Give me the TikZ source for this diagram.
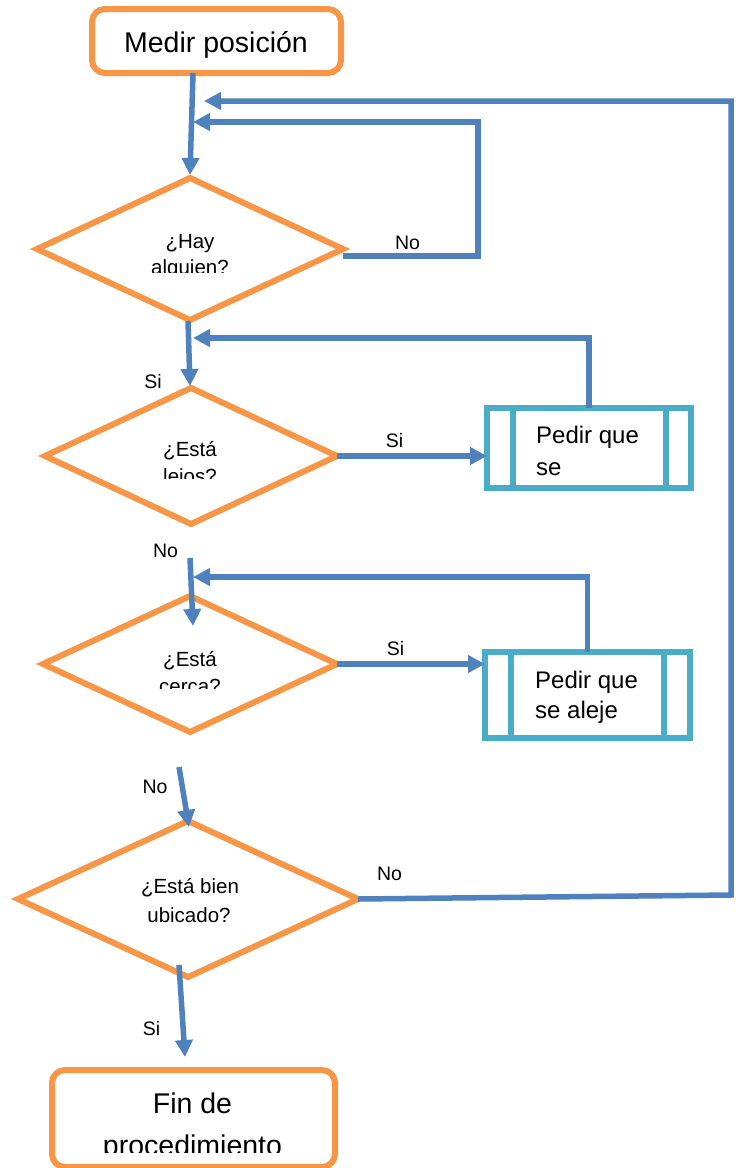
\documentclass[tikz,border=0pt]{standalone}
\usepackage{fontspec}
\setmainfont{Liberation Sans}
\usetikzlibrary{shapes.geometric,arrows.meta}
\definecolor{flowOrange}{HTML}{F79646}
\definecolor{flowBlue}{HTML}{4F81BD}
\definecolor{flowCyan}{HTML}{4BACC6}

\tikzset{
  terminal/.style={rectangle, draw=flowOrange, line width=6pt, rounded corners=13pt,
                   inner sep=0pt, outer sep=0pt},
  decision/.style={diamond, draw=flowOrange, line width=6pt, inner sep=0pt, outer sep=0pt},
  process/.style={rectangle, draw=flowCyan, line width=6.5pt, inner sep=0pt, outer sep=0pt},
  sidebar/.style={draw=flowCyan, line width=6pt},
  flow/.style={draw=flowBlue, line width=5.5pt},
  arrowflow/.style={flow, -{Triangle[length=17pt,width=17pt]}},
  lbl/.style={font=\fontsize{19.5}{22}\selectfont, inner sep=0pt, anchor=base},
  dtext/.style={font=\fontsize{20.5}{24}\selectfont, inner sep=0pt, anchor=base},
  ptext/.style={font=\fontsize{24}{28}\selectfont, inner sep=0pt, anchor=base west},
  ttext/.style={font=\fontsize{28.5}{33}\selectfont, inner sep=0pt, anchor=base},
}

\begin{document}
\begin{tikzpicture}[x=1pt,y=-1pt]
\useasboundingbox (0,0) rectangle (739,1168);
\clip (0,0) rectangle (739,1168);
\fill[white] (0,0) rectangle (739,1168);

% ---- shapes ----
\node[terminal, minimum width=249pt, minimum height=64pt] (medir) at (216.5,41) {};
\node[ttext] (medirT) at (216,52) {Medir posición};

\node[decision, minimum width=306pt, minimum height=142pt] (d1) at (190,249) {};
\node[decision, minimum width=292pt, minimum height=136pt] (d2) at (191,456) {};
\node[decision, minimum width=294pt, minimum height=136pt] (d3) at (190,664) {};
\node[decision, minimum width=340pt, minimum height=156pt] (d4) at (188,899) {};

\node[process, minimum width=204pt, minimum height=80pt] (b1) at (589,448) {};
\draw[sidebar] ([xshift=26pt]b1.north west) -- ([xshift=26pt]b1.south west);
\draw[sidebar] ([xshift=-25pt]b1.north east) -- ([xshift=-25pt]b1.south east);
\node[process, minimum width=205pt, minimum height=86pt] (b2) at (587.5,695) {};
\draw[sidebar] ([xshift=26pt]b2.north west) -- ([xshift=26pt]b2.south west);
\draw[sidebar] ([xshift=-26pt]b2.north east) -- ([xshift=-26pt]b2.south east);

\node[terminal, minimum width=283pt, minimum height=97pt] (fin) at (193.5,1118.5) {};

% ---- texts inside the shapes (cut off by their frames) ----
\begin{scope}
  \clip (0,0) rectangle (739,272);
  \node[dtext] (d1a) at (190,248) {¿Hay};
  \node[dtext] (d1b) at (190,274) {alguien?};
\end{scope}
\begin{scope}
  \clip (0,300) rectangle (739,478);
  \node[dtext] (d2a) at (190,456) {¿Está};
  \node[dtext] (d2b) at (190,483) {lejos?};
\end{scope}
\begin{scope}
  \clip (0,600) rectangle (739,688);
  \node[dtext] (d3a) at (190,666) {¿Está};
  \node[dtext] (d3b) at (190,693) {cerca?};
\end{scope}
\node[dtext] (d4a) at (190,893) {¿Está bien};
\node[dtext] (d4b) at (189,922) {ubicado?};

\node[ptext] (b1a) at (536,443) {Pedir que};
\node[ptext] (b1b) at (536,475) {se};
\node[ptext] (b2a) at (535,688) {Pedir que};
\node[ptext] (b2b) at (535,718) {se aleje};

\begin{scope}
  \clip (0,1080) rectangle (739,1152);
  \node[ttext] (finA) at (192.5,1113) {Fin de};
  \node[ttext] (finB) at (192.5,1155) {procedimiento};
\end{scope}

% ---- junction points on the main line ----
\coordinate (j0) at (204,101);
\coordinate (j1) at (193,122);
\coordinate (j2) at (193,338);
\coordinate (j3) at (193,577);
\coordinate (s3) at (190,558);
\coordinate (s4) at (179,767);
\coordinate (s5) at (179,965);

% ---- connectors ----
\draw[arrowflow] ([xshift=3pt]medir.south -| d1.north) -- ([yshift=3pt]d1.north);
\draw[arrowflow] ([yshift=-7pt]d1.east) -| (478,122) -- (j1);
\draw[arrowflow] ([xshift=-2pt,yshift=-1pt]d1.south) -- ([xshift=-1pt,yshift=2pt]d2.north);
\draw[arrowflow] (d2.east) -- (d2.east -| b1.west);
\draw[arrowflow] (b1.north) |- (j2);
\draw[arrowflow] (s3) -- ([xshift=3pt,yshift=-30pt]d3.north);
\draw[arrowflow] (d3.east) -- (d3.east -| b2.west);
\draw[arrowflow] (b2.north) |- (j3);
\draw[arrowflow] (s4) -- ([xshift=1pt,yshift=-6pt]d4.north);
\draw[arrowflow] (d4.east) -- (731,895) -- (731,101) -- (j0);
\draw[arrowflow] (s5) -- ([xshift=-8.5pt,yshift=13pt]fin.north);

% ---- branch labels ----
\node[lbl] (l1) at (407.5,249) {No};
\node[lbl] (l2) at (153,388) {Si};
\node[lbl] (l3) at (394.5,447) {Si};
\node[lbl] (l4) at (165.5,557) {No};
\node[lbl] (l5) at (395.5,655) {Si};
\node[lbl] (l6) at (155,793) {No};
\node[lbl] (l7) at (389.5,880) {No};
\node[lbl] (l8) at (151.5,1035) {Si};
\end{tikzpicture}
\end{document}
